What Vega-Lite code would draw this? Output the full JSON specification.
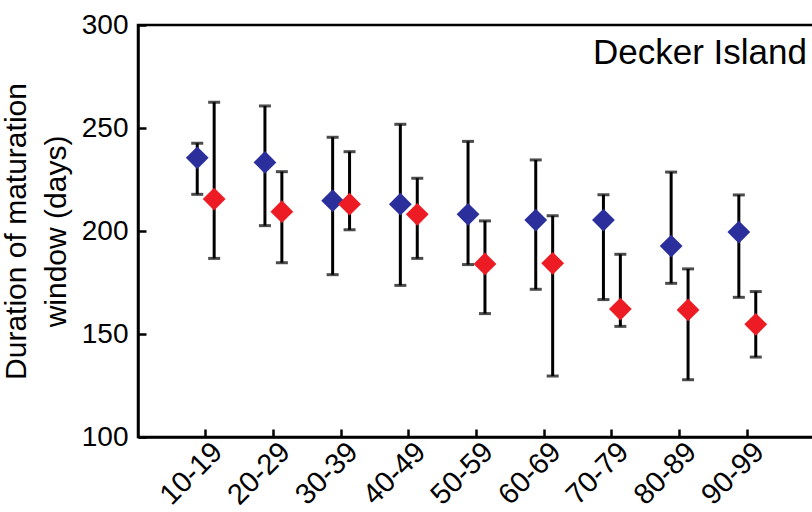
{
  "$schema": "https://vega.github.io/schema/vega-lite/v6.json",
  "width": 677,
  "height": 412,
  "autosize": {"type": "none"},
  "padding": {"left": 138, "top": 25, "right": 0, "bottom": 75},
  "background": "white",
  "config": {
    "font": "Liberation Sans",
    "view": {"stroke": "black", "strokeWidth": 2.5},
    "axis": {
      "labelFont": "Liberation Sans",
      "titleFont": "Liberation Sans",
      "labelColor": "black",
      "titleColor": "black",
      "domainColor": "black",
      "domainWidth": 2.5,
      "tickColor": "black",
      "tickWidth": 2.5,
      "grid": false
    }
  },
  "title": {
    "text": "Decker Island",
    "anchor": "end",
    "orient": "top",
    "offset": 0,
    "baseline": "alphabetic",
    "fontSize": 35,
    "fontWeight": "normal",
    "dx": -8,
    "dy": 88,
    "color": "black",
    "font": "Liberation Sans"
  },
  "data": {
    "values": [
      {"group": "10-19", "series": "Series 1", "mean": 235.5, "lo": 217.8, "hi": 242.6},
      {"group": "10-19", "series": "Series 2", "mean": 215.5, "lo": 186.7, "hi": 262.5},
      {"group": "20-29", "series": "Series 1", "mean": 233.3, "lo": 202.6, "hi": 260.7},
      {"group": "20-29", "series": "Series 2", "mean": 209.4, "lo": 184.6, "hi": 228.8},
      {"group": "30-39", "series": "Series 1", "mean": 214.7, "lo": 178.8, "hi": 245.5},
      {"group": "30-39", "series": "Series 2", "mean": 213.0, "lo": 200.6, "hi": 238.5},
      {"group": "40-49", "series": "Series 1", "mean": 213.0, "lo": 173.6, "hi": 251.8},
      {"group": "40-49", "series": "Series 2", "mean": 208.1, "lo": 186.7, "hi": 225.6},
      {"group": "50-59", "series": "Series 1", "mean": 208.1, "lo": 183.7, "hi": 243.5},
      {"group": "50-59", "series": "Series 2", "mean": 184.0, "lo": 159.9, "hi": 204.9},
      {"group": "60-69", "series": "Series 1", "mean": 205.3, "lo": 171.7, "hi": 234.5},
      {"group": "60-69", "series": "Series 2", "mean": 184.3, "lo": 129.6, "hi": 207.4},
      {"group": "70-79", "series": "Series 1", "mean": 205.3, "lo": 166.7, "hi": 217.6},
      {"group": "70-79", "series": "Series 2", "mean": 162.1, "lo": 153.7, "hi": 188.7},
      {"group": "80-89", "series": "Series 1", "mean": 192.7, "lo": 174.6, "hi": 228.6},
      {"group": "80-89", "series": "Series 2", "mean": 161.7, "lo": 127.8, "hi": 181.6},
      {"group": "90-99", "series": "Series 1", "mean": 199.5, "lo": 167.8, "hi": 217.5},
      {"group": "90-99", "series": "Series 2", "mean": 154.7, "lo": 138.8, "hi": 170.6}
    ]
  },
  "encoding": {
    "x": {
      "field": "group",
      "type": "nominal",
      "sort": null,
      "scale": {"type": "band", "paddingInner": 0, "paddingOuter": 0.5},
      "axis": {
        "title": null,
        "labelAngle": -45,
        "labelFontSize": 29,
        "tickSize": -8,
        "labelPadding": 8,
        "labelOffset": 2
      }
    },
    "xOffset": {
      "field": "series",
      "type": "nominal",
      "scale": {"paddingInner": 0, "paddingOuter": 1.42}
    }
  },
  "layer": [
    {
      "mark": {"type": "rule", "color": "black", "strokeWidth": 3},
      "encoding": {
        "y": {
          "field": "lo",
          "type": "quantitative",
          "scale": {"domain": [100, 300], "nice": false, "zero": false},
          "axis": {
            "values": [100, 150, 200, 250, 300],
            "tickSize": -8,
            "labelPadding": 18,
            "labelFontSize": 28,
            "title": ["Duration of maturation", "window (days)"],
            "titleFontSize": 30,
            "titleFontWeight": "normal",
            "titleLineHeight": 40,
            "titlePadding": 10
          }
        },
        "y2": {"field": "hi"}
      }
    },
    {
      "mark": {"type": "tick", "color": "black", "thickness": 3, "size": 12, "orient": "horizontal"},
      "encoding": {"y": {"field": "lo", "type": "quantitative"}}
    },
    {
      "mark": {"type": "tick", "color": "black", "thickness": 3, "size": 12, "orient": "horizontal"},
      "encoding": {"y": {"field": "hi", "type": "quantitative"}}
    },
    {
      "mark": {"type": "point", "shape": "diamond", "filled": true, "size": 520, "opacity": 1},
      "encoding": {
        "y": {"field": "mean", "type": "quantitative"},
        "color": {
          "field": "series",
          "type": "nominal",
          "scale": {"range": ["#2b2f9b", "#ed1c24"]},
          "legend": null
        }
      }
    }
  ]
}
